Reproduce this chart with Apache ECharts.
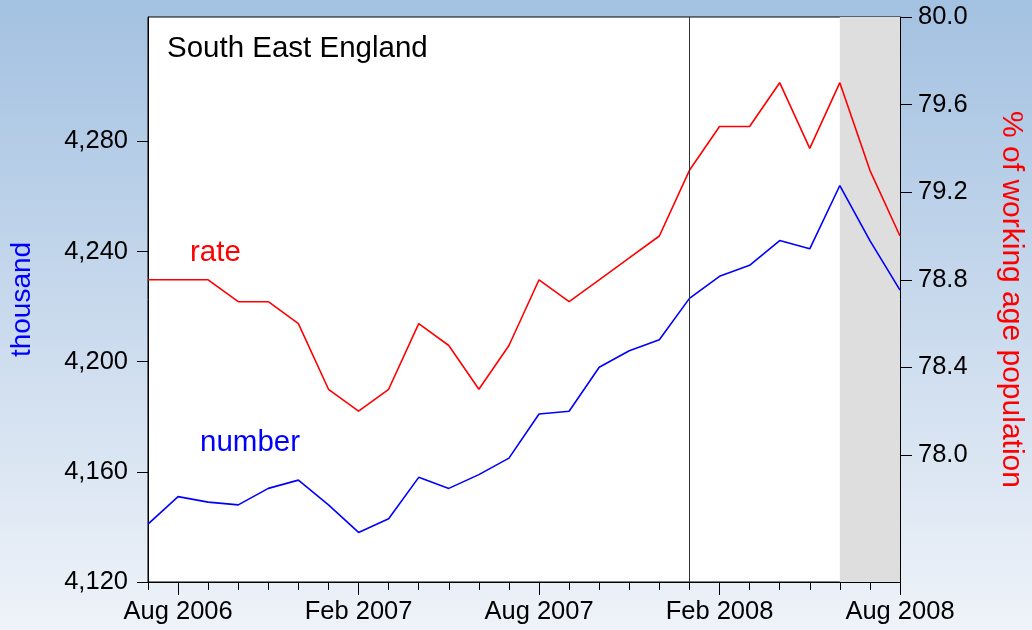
<!DOCTYPE html>
<html>
<head>
<meta charset="utf-8">
<script src="https://cdn.jsdelivr.net/npm/echarts@6/dist/echarts.min.js"></script>
<style>
  html, body { margin: 0; padding: 0; }
  #main { width: 1032px; height: 630px; }
</style>
</head>
<body>
<div id="main"></div>
<script>
// months on the x axis, Jul 2006 .. Aug 2008
var months = ['Jul 2006', 'Aug 2006', 'Sep 2006', 'Oct 2006', 'Nov 2006', 'Dec 2006',
    'Jan 2007', 'Feb 2007', 'Mar 2007', 'Apr 2007', 'May 2007', 'Jun 2007',
    'Jul 2007', 'Aug 2007', 'Sep 2007', 'Oct 2007', 'Nov 2007', 'Dec 2007',
    'Jan 2008', 'Feb 2008', 'Mar 2008', 'Apr 2008', 'May 2008', 'Jun 2008',
    'Jul 2008', 'Aug 2008'];
// employment number, thousand (left axis)
var number = [4141, 4151, 4149, 4148, 4154, 4157, 4148, 4138, 4143, 4158, 4154, 4159,
    4165, 4181, 4182, 4198, 4204, 4208, 4223, 4231, 4235, 4244, 4241, 4264, 4244, 4226];
// employment rate, % of working age population (right axis)
var rate = [78.8, 78.8, 78.8, 78.7, 78.7, 78.6, 78.3, 78.2, 78.3, 78.6, 78.5, 78.3,
    78.5, 78.8, 78.7, 78.8, 78.9, 79.0, 79.3, 79.5, 79.5, 79.7, 79.4, 79.7, 79.3, 79.0];
var leftTicks = [4120, 4160, 4200, 4240, 4280];
var rightTicks = [78.0, 78.4, 78.8, 79.2, 79.6, 80.0];
var markMonth = 'Jan 2008';
var shadeFrom = 'Jun 2008', shadeTo = 'Aug 2008';

var font = 'Liberation Sans, Arial, sans-serif';
var chart = echarts.init(document.getElementById('main'));

function major(i) { return i % 6 === 1; }

chart.setOption({
    animation: false,
    backgroundColor: new echarts.graphic.LinearGradient(0, 0, 0, 1, [
        {offset: 0, color: '#a3c1e1'},
        {offset: 1, color: '#eff3f9'}
    ]),
    title: {
        text: 'South East England',
        left: 162,
        top: 29,
        textStyle: {fontFamily: font, fontSize: 29.5, fontWeight: 'normal', color: '#000'}
    },
    graphic: [
        {type: 'text', left: 190, top: 238, style: {text: 'rate', fontFamily: font, fontSize: 29.5, fill: '#ff0000'}},
        {type: 'text', left: 200, top: 428, style: {text: 'number', fontFamily: font, fontSize: 29.5, fill: '#0000ff'}}
    ],
    grid: {
        left: 148, right: 132, top: 17, bottom: 48,
        outerBoundsMode: 'none',
        containLabel: false,
        show: true,
        backgroundColor: '#ffffff',
        borderColor: '#000',
        borderWidth: 1
    },
    xAxis: [
        {
            type: 'category',
            data: months,
            boundaryGap: false,
            axisLine: {lineStyle: {color: '#000', width: 1}},
            axisTick: {interval: major, length: 13, lineStyle: {color: '#000'}},
            axisLabel: {
                interval: major, margin: 17, color: '#000',
                fontFamily: font, fontSize: 25.5,
                formatter: function (v) { return v; }
            },
            splitLine: {show: false}
        },
        {
            type: 'category',
            data: months,
            boundaryGap: false,
            position: 'bottom',
            axisLine: {show: false},
            axisTick: {interval: 0, length: 8, lineStyle: {color: '#000'}},
            axisLabel: {show: false},
            splitLine: {show: false}
        }
    ],
    yAxis: [
        {
            type: 'value',
            min: 4120,
            max: 4325.2,
            position: 'left',
            name: 'thousand',
            nameLocation: 'middle',
            nameRotate: 90,
            nameGap: 112,
            nameTextStyle: {color: '#0000ff', fontFamily: font, fontSize: 28},
            axisLine: {show: true, lineStyle: {color: '#000'}},
            axisTick: {show: true, length: 11, customValues: leftTicks, lineStyle: {color: '#000'}},
            axisLabel: {
                customValues: leftTicks, margin: 20, color: '#000',
                fontFamily: font, fontSize: 25.5,
                formatter: function (v) { return String(v).replace(/\B(?=(\d{3})+(?!\d))/g, ','); }
            },
            splitLine: {show: false}
        },
        {
            type: 'value',
            min: 77.42,
            max: 80.0,
            position: 'right',
            name: '% of working age population',
            nameLocation: 'middle',
            nameRotate: -90,
            nameGap: 96,
            nameTextStyle: {color: '#ff0000', fontFamily: font, fontSize: 30},
            axisLine: {show: true, lineStyle: {color: '#000'}},
            axisTick: {show: true, length: 12, customValues: rightTicks, lineStyle: {color: '#000'}},
            axisLabel: {
                customValues: rightTicks, margin: 18, color: '#000',
                fontFamily: font, fontSize: 25.5,
                formatter: function (v) { return v.toFixed(1); }
            },
            splitLine: {show: false}
        }
    ],
    series: [
        {
            name: 'number',
            type: 'line',
            yAxisIndex: 0,
            data: number,
            symbol: 'none',
            lineStyle: {color: '#0000ff', width: 1.6},
            z: 3,
            markArea: {
                silent: true,
                itemStyle: {color: '#dedede'},
                data: [[{xAxis: shadeFrom}, {xAxis: shadeTo}]]
            },
            markLine: {
                silent: true,
                symbol: 'none',
                label: {show: false},
                lineStyle: {color: '#333', width: 1, type: 'solid'},
                data: [{xAxis: markMonth}]
            }
        },
        {
            name: 'rate',
            type: 'line',
            yAxisIndex: 1,
            data: rate,
            symbol: 'none',
            lineStyle: {color: '#ff0000', width: 1.6},
            z: 3
        }
    ]
});
</script>
</body>
</html>
